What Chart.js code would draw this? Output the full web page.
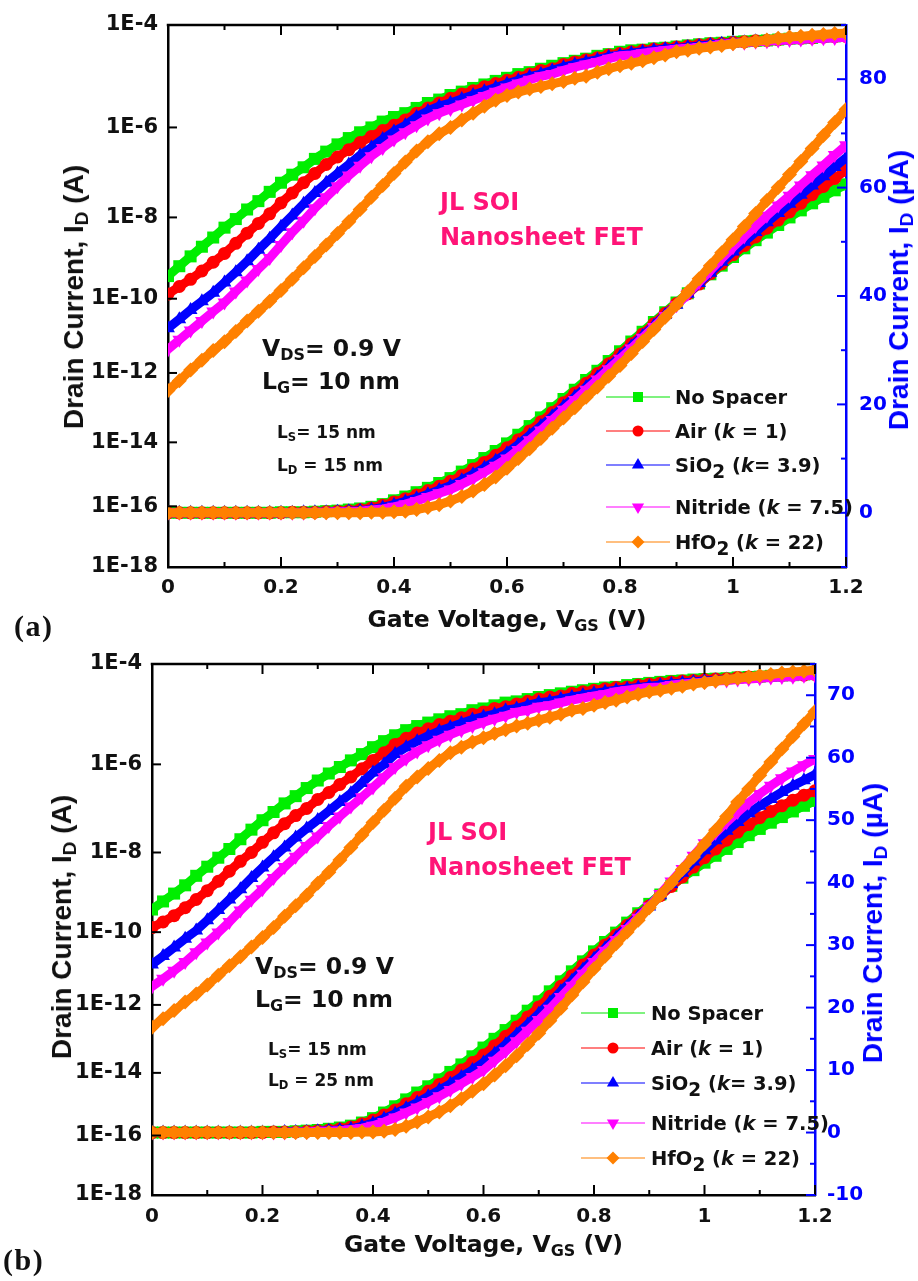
<!DOCTYPE html>
<html lang="en">
<head>
<meta charset="utf-8">
<title>JL SOI Nanosheet FET - transfer characteristics</title>
<script src="https://cdn.jsdelivr.net/npm/chart.js@4.4.1/dist/chart.umd.min.js"></script>
<style>
  html, body { margin: 0; padding: 0; background: #fff; }
  #page { position: relative; width: 918px; height: 1281px; overflow: hidden; }
  .panel { position: absolute; left: 0; }
  .lbl { position: absolute; white-space: nowrap; line-height: 1; font-family: 'DejaVu Sans', sans-serif; font-weight: bold; color: #111; }
  .pink { color: #ff1477; font-size: 24px; }
  .cond { font-size: 23.5px; }
  .small { font-size: 17px; }
  .xtitle { font-size: 23.5px; transform: translateX(-50%); }
  .ytitle { position: absolute; white-space: nowrap; line-height: 1; font-family: 'Liberation Sans', Arial, sans-serif; font-weight: bold; font-size: 28px; color: #111; transform: translate(-50%, -50%) rotate(-90deg); }
  .ytitle.right { color: #0000ff; }
  .sub { font-size: 0.68em; position: relative; top: 0.28em; }
  .tag { position: absolute; line-height: 1; font-family: 'Liberation Serif', 'Times New Roman', serif; font-weight: bold; font-size: 30px; letter-spacing: 1.5px; color: #111; }
  .leg { position: absolute; white-space: nowrap; line-height: 1; font-family: 'DejaVu Sans', sans-serif; font-weight: bold; font-size: 19.5px; color: #111; }
  .leg i { font-style: oblique; }
  .leg .sub2 { font-size: 0.95em; position: relative; top: 0.32em; }
  .legsym { position: absolute; }
</style>
</head>
<body>
<div id="page">
  <div class="panel" style="top:0"><canvas id="chartA" width="918" height="640" style="width:918px;height:640px"></canvas></div>
  <div class="panel" style="top:640px"><canvas id="chartB" width="918" height="641" style="width:918px;height:641px"></canvas></div>

  <!-- panel (a) annotations -->
  <div class="lbl pink" style="left:440px;top:189.7px">JL SOI</div>
  <div class="lbl pink" style="left:440px;top:224.7px">Nanosheet FET</div>
  <div class="lbl cond" style="left:262px;top:337px">V<span class="sub">DS</span>= 0.9 V</div>
  <div class="lbl cond" style="left:262px;top:370px">L<span class="sub">G</span>= 10 nm</div>
  <div class="lbl small" style="left:277px;top:423.6px">L<span class="sub">S</span>= 15 nm</div>
  <div class="lbl small" style="left:277px;top:456.6px">L<span class="sub">D</span> = 15 nm</div>
  <div class="lbl xtitle" style="left:507px;top:608px">Gate Voltage, V<span class="sub">GS</span> (V)</div>
  <div class="ytitle" style="left:74px;top:297px">Drain Current, I<span class="sub">D</span> (A)</div>
  <div class="ytitle right" style="left:899px;top:290px">Drain Current, I<span class="sub">D</span> (µA)</div>
  <div class="tag" style="left:14px;top:611px">(a)</div>

  <!-- panel (b) annotations -->
  <div class="lbl pink" style="left:428px;top:819.7px">JL SOI</div>
  <div class="lbl pink" style="left:428px;top:854.7px">Nanosheet FET</div>
  <div class="lbl cond" style="left:255px;top:955px">V<span class="sub">DS</span>= 0.9 V</div>
  <div class="lbl cond" style="left:255px;top:988px">L<span class="sub">G</span>= 10 nm</div>
  <div class="lbl small" style="left:268px;top:1040.6px">L<span class="sub">S</span>= 15 nm</div>
  <div class="lbl small" style="left:268px;top:1071.6px">L<span class="sub">D</span> = 25 nm</div>
  <div class="lbl xtitle" style="left:483.5px;top:1233px">Gate Voltage, V<span class="sub">GS</span> (V)</div>
  <div class="ytitle" style="left:62px;top:927px">Drain Current, I<span class="sub">D</span> (A)</div>
  <div class="ytitle right" style="left:873px;top:923px">Drain Current, I<span class="sub">D</span> (µA)</div>
  <div class="tag" style="left:3px;top:1245px">(b)</div>
</div>

<script>
// gate voltage sweep (V)
const vgs = [0, 0.02, 0.04, 0.06, 0.08, 0.1, 0.12, 0.14, 0.16, 0.18,
  0.2, 0.22, 0.24, 0.26, 0.28, 0.3, 0.32, 0.34, 0.36, 0.38,
  0.4, 0.42, 0.44, 0.46, 0.48, 0.5, 0.52, 0.54, 0.56, 0.58,
  0.6, 0.62, 0.64, 0.66, 0.68, 0.7, 0.72, 0.74, 0.76, 0.78,
  0.8, 0.82, 0.84, 0.86, 0.88, 0.9, 0.92, 0.94, 0.96, 0.98,
  1, 1.02, 1.04, 1.06, 1.08, 1.1, 1.12, 1.14, 1.16, 1.18, 1.2];

const seriesNames = ['No Spacer', 'Air (k = 1)', 'SiO2 (k= 3.9)', 'Nitride (k = 7.5)', 'HfO2 (k = 22)'];
const legendLabels = ['No Spacer', 'Air (<i>k</i> = 1)', 'SiO<span class="sub2">2</span> (<i>k</i>= 3.9)',
  'Nitride (<i>k</i> = 7.5)', 'HfO<span class="sub2">2</span> (<i>k</i> = 22)'];

// tick labels
const vgsTickLabels = ['0', '0.2', '0.4', '0.6', '0.8', '1', '1.2'];
const logTickValues = [1e-18, 1e-16, 1e-14, 1e-12, 1e-10, 1e-8, 1e-6, 1e-4];
const logTickLabels = ['1E-18', '1E-16', '1E-14', '1E-12', '1E-10', '1E-8', '1E-6', '1E-4'];
const rightTicksA = [0, 20, 40, 60, 80];
const rightTickLabelsA = ['0', '20', '40', '60', '80'];
const rightTicksB = [-10, 0, 10, 20, 30, 40, 50, 60, 70];
const rightTickLabelsB = ['-10', '0', '10', '20', '30', '40', '50', '60', '70'];

// (a) L_D = 15 nm, drain current on log axis (A)
const aLogNoSpacer = [3.6e-10, 6.3e-10, 1.1e-9, 1.9e-9, 3.2e-9, 5.6e-9, 9.1e-9, 1.5e-8, 2.3e-8, 3.7e-8,
  5.9e-8, 8.9e-8, 1.3e-7, 2.0e-7, 2.9e-7, 4.2e-7, 5.8e-7, 7.8e-7, 1.0e-6, 1.3e-6,
  1.6e-6, 1.9e-6, 2.4e-6, 3.0e-6, 3.5e-6, 4.3e-6, 5.0e-6, 5.9e-6, 6.9e-6, 8.1e-6,
  9.3e-6, 1.1e-5, 1.2e-5, 1.4e-5, 1.6e-5, 1.8e-5, 2.0e-5, 2.2e-5, 2.5e-5, 2.7e-5,
  3.0e-5, 3.2e-5, 3.3e-5, 3.5e-5, 3.6e-5, 3.8e-5, 4.0e-5, 4.2e-5, 4.4e-5, 4.5e-5,
  4.7e-5, 4.8e-5, 4.9e-5, 5.0e-5, 5.2e-5, 5.4e-5, 5.5e-5, 5.6e-5, 5.9e-5, 6.0e-5, 6.2e-5];
const aLogAir = [1.3e-10, 2.0e-10, 3.0e-10, 4.8e-10, 7.9e-10, 1.3e-9, 2.3e-9, 4.1e-9, 7.1e-9, 1.2e-8,
  2.1e-8, 3.5e-8, 5.9e-8, 9.5e-8, 1.5e-7, 2.2e-7, 3.2e-7, 4.6e-7, 6.3e-7, 8.5e-7,
  1.1e-6, 1.4e-6, 1.9e-6, 2.4e-6, 3.0e-6, 3.7e-6, 4.5e-6, 5.2e-6, 6.2e-6, 7.2e-6,
  8.3e-6, 9.5e-6, 1.1e-5, 1.3e-5, 1.4e-5, 1.7e-5, 1.9e-5, 2.1e-5, 2.3e-5, 2.6e-5,
  2.8e-5, 3.0e-5, 3.2e-5, 3.4e-5, 3.5e-5, 3.7e-5, 3.9e-5, 4.1e-5, 4.3e-5, 4.4e-5,
  4.6e-5, 4.7e-5, 4.9e-5, 5.0e-5, 5.2e-5, 5.4e-5, 5.5e-5, 5.6e-5, 5.8e-5, 5.9e-5, 6.0e-5];
const aLogSiO2 = [1.6e-11, 2.8e-11, 5.0e-11, 8.5e-11, 1.4e-10, 2.5e-10, 4.5e-10, 8.3e-10, 1.6e-9, 3.0e-9,
  5.9e-9, 1.1e-8, 2.0e-8, 3.5e-8, 5.9e-8, 9.5e-8, 1.5e-7, 2.4e-7, 3.6e-7, 5.5e-7,
  8.1e-7, 1.1e-6, 1.6e-6, 2.1e-6, 2.6e-6, 3.0e-6, 3.6e-6, 4.3e-6, 5.1e-6, 6.0e-6,
  7.1e-6, 8.3e-6, 9.8e-6, 1.1e-5, 1.3e-5, 1.5e-5, 1.7e-5, 1.9e-5, 2.1e-5, 2.4e-5,
  2.6e-5, 2.8e-5, 3.0e-5, 3.2e-5, 3.4e-5, 3.5e-5, 3.7e-5, 3.9e-5, 4.1e-5, 4.3e-5,
  4.5e-5, 4.6e-5, 4.8e-5, 4.9e-5, 5.1e-5, 5.2e-5, 5.4e-5, 5.5e-5, 5.6e-5, 5.8e-5, 5.9e-5];
const aLogNitride = [4.3e-12, 7.8e-12, 1.4e-11, 2.5e-11, 4.5e-11, 7.9e-11, 1.5e-10, 2.8e-10, 5.4e-10, 1.0e-9,
  2.1e-9, 4.3e-9, 8.3e-9, 1.6e-8, 2.8e-8, 4.9e-8, 8.5e-8, 1.4e-7, 2.3e-7, 3.5e-7,
  5.4e-7, 7.8e-7, 1.1e-6, 1.5e-6, 1.9e-6, 2.3e-6, 2.8e-6, 3.4e-6, 4.1e-6, 5.0e-6,
  6.0e-6, 7.2e-6, 8.5e-6, 1.0e-5, 1.1e-5, 1.3e-5, 1.5e-5, 1.7e-5, 1.9e-5, 2.2e-5,
  2.5e-5, 2.6e-5, 2.8e-5, 3.0e-5, 3.2e-5, 3.4e-5, 3.5e-5, 3.7e-5, 3.9e-5, 4.2e-5,
  4.4e-5, 4.5e-5, 4.7e-5, 4.8e-5, 5.0e-5, 5.1e-5, 5.2e-5, 5.4e-5, 5.5e-5, 5.6e-5, 5.8e-5];
const aLogHfO2 = [3.1e-13, 6.0e-13, 1.2e-12, 2.2e-12, 4.0e-12, 6.9e-12, 1.3e-11, 2.5e-11, 4.6e-11, 8.5e-11,
  1.6e-10, 3.0e-10, 5.8e-10, 1.1e-9, 2.1e-9, 4.0e-9, 7.8e-9, 1.5e-8, 2.8e-8, 5.1e-8,
  9.5e-8, 1.7e-7, 3.0e-7, 4.8e-7, 7.2e-7, 1.0e-6, 1.4e-6, 1.9e-6, 2.6e-6, 3.4e-6,
  4.2e-6, 4.9e-6, 5.6e-6, 6.3e-6, 7.1e-6, 7.9e-6, 9.1e-6, 1.0e-5, 1.2e-5, 1.4e-5,
  1.6e-5, 1.8e-5, 2.0e-5, 2.3e-5, 2.6e-5, 3.0e-5, 3.2e-5, 3.5e-5, 3.7e-5, 4.0e-5,
  4.3e-5, 4.6e-5, 4.8e-5, 5.1e-5, 5.5e-5, 5.8e-5, 6.0e-5, 6.3e-5, 6.5e-5, 6.8e-5, 6.9e-5];

// (a) drain current on linear axis (µA)
const aLinNoSpacer = [0, 0, 0, 0, 0, 0, 0, 0, 0, 0,
  0.1, 0.1, 0.1, 0.2, 0.3, 0.4, 0.6, 0.8, 1.1, 1.6,
  2.3, 3.0, 3.8, 4.6, 5.5, 6.4, 7.6, 8.8, 10.1, 11.4,
  12.8, 14.4, 16.0, 17.6, 19.3, 21.0, 22.7, 24.5, 26.2, 28.0,
  29.8, 31.6, 33.4, 35.2, 37.0, 38.8, 40.5, 42.3, 44.0, 45.6,
  47.2, 48.8, 50.3, 51.7, 53.1, 54.5, 55.8, 57.1, 58.3, 59.5, 60.6];
const aLinAir = [0, 0, 0, 0, 0, 0, 0, 0, 0, 0,
  0.0, 0.1, 0.1, 0.1, 0.2, 0.3, 0.4, 0.6, 0.9, 1.4,
  2.0, 2.6, 3.3, 4.1, 4.9, 5.8, 6.9, 8.1, 9.3, 10.6,
  12.0, 13.5, 15.1, 16.8, 18.5, 20.3, 22.1, 23.9, 25.7, 27.5,
  29.3, 31.2, 33.0, 34.9, 36.8, 38.6, 40.4, 42.2, 44.1, 45.9,
  47.6, 49.3, 50.9, 52.5, 54.0, 55.5, 57.1, 58.7, 60.2, 61.7, 63.2];
const aLinSiO2 = [0, 0, 0, 0, 0, 0, 0, 0, 0, 0,
  0.0, 0.0, 0.1, 0.1, 0.1, 0.2, 0.3, 0.4, 0.6, 1.0,
  1.5, 2.1, 2.7, 3.4, 4.2, 5.0, 6.0, 7.1, 8.3, 9.6,
  11.0, 12.6, 14.3, 16.0, 17.8, 19.6, 21.4, 23.2, 25.0, 26.9,
  28.8, 30.7, 32.6, 34.5, 36.5, 38.4, 40.4, 42.4, 44.3, 46.3,
  48.2, 50.0, 51.8, 53.6, 55.3, 57.0, 58.7, 60.4, 62.1, 63.8, 65.5];
const aLinNitride = [0, 0, 0, 0, 0, 0, 0, 0, 0, 0,
  0.0, 0.0, 0.0, 0.1, 0.1, 0.2, 0.2, 0.3, 0.5, 0.7,
  1.1, 1.6, 2.2, 2.9, 3.6, 4.3, 5.3, 6.3, 7.5, 8.7,
  10.0, 11.6, 13.4, 15.2, 17.1, 19.0, 20.8, 22.7, 24.6, 26.5,
  28.4, 30.3, 32.3, 34.3, 36.3, 38.3, 40.4, 42.6, 44.7, 46.9,
  49.0, 51.0, 52.9, 54.8, 56.7, 58.5, 60.4, 62.3, 64.1, 66.0, 67.8];
const aLinHfO2 = [0, 0, 0, 0, 0, 0, 0, 0, 0, 0,
  0.0, 0.0, 0.0, 0.0, 0.0, 0.0, 0.0, 0.0, 0.1, 0.1,
  0.2, 0.3, 0.6, 1.0, 1.5, 2.2, 3.0, 4.0, 5.2, 6.6,
  8.2, 10.0, 11.8, 13.7, 15.6, 17.5, 19.4, 21.3, 23.2, 25.2,
  27.2, 29.4, 31.6, 33.8, 36.1, 38.4, 40.8, 43.2, 45.6, 48.0,
  50.4, 52.8, 55.2, 57.6, 60.0, 62.4, 64.8, 67.2, 69.6, 72.0, 74.4];

// (b) L_D = 25 nm, drain current on log axis (A)
const bLogNoSpacer = [3.7e-10, 5.9e-10, 9.3e-10, 1.5e-9, 2.6e-9, 4.4e-9, 7.4e-9, 1.2e-8, 2.0e-8, 3.3e-8,
  5.4e-8, 8.3e-8, 1.3e-7, 1.9e-7, 2.9e-7, 4.3e-7, 6.2e-7, 8.7e-7, 1.2e-6, 1.6e-6,
  2.2e-6, 2.9e-6, 3.8e-6, 4.8e-6, 5.8e-6, 6.8e-6, 7.9e-6, 9.1e-6, 1.0e-5, 1.2e-5,
  1.3e-5, 1.5e-5, 1.7e-5, 1.8e-5, 2.0e-5, 2.2e-5, 2.4e-5, 2.6e-5, 2.8e-5, 3.0e-5,
  3.2e-5, 3.4e-5, 3.5e-5, 3.8e-5, 4.0e-5, 4.2e-5, 4.4e-5, 4.6e-5, 4.7e-5, 4.9e-5,
  5.0e-5, 5.1e-5, 5.2e-5, 5.4e-5, 5.5e-5, 5.6e-5, 5.8e-5, 5.9e-5, 6.0e-5, 6.2e-5, 6.3e-5];
const bLogAir = [1.3e-10, 1.8e-10, 2.6e-10, 4.1e-10, 6.6e-10, 1.1e-9, 1.9e-9, 3.4e-9, 6.0e-9, 1.0e-8,
  1.7e-8, 2.8e-8, 4.5e-8, 6.9e-8, 1.0e-7, 1.6e-7, 2.3e-7, 3.5e-7, 5.2e-7, 7.9e-7,
  1.2e-6, 1.7e-6, 2.5e-6, 3.3e-6, 4.2e-6, 5.1e-6, 6.2e-6, 7.2e-6, 8.5e-6, 1.0e-5,
  1.1e-5, 1.3e-5, 1.4e-5, 1.6e-5, 1.8e-5, 2.0e-5, 2.2e-5, 2.3e-5, 2.6e-5, 2.8e-5,
  3.0e-5, 3.2e-5, 3.4e-5, 3.5e-5, 3.8e-5, 4.0e-5, 4.2e-5, 4.4e-5, 4.6e-5, 4.7e-5,
  4.9e-5, 5.0e-5, 5.1e-5, 5.4e-5, 5.5e-5, 5.6e-5, 5.8e-5, 5.9e-5, 6.0e-5, 6.0e-5, 6.2e-5];
const bLogSiO2 = [1.3e-11, 2.2e-11, 3.8e-11, 6.6e-11, 1.1e-10, 2.0e-10, 3.6e-10, 6.6e-10, 1.2e-9, 2.3e-9,
  4.2e-9, 7.6e-9, 1.3e-8, 2.2e-8, 3.5e-8, 5.5e-8, 8.7e-8, 1.4e-7, 2.2e-7, 3.8e-7,
  6.5e-7, 1.0e-6, 1.6e-6, 2.2e-6, 2.9e-6, 3.7e-6, 4.6e-6, 5.5e-6, 6.6e-6, 7.8e-6,
  8.9e-6, 1.0e-5, 1.2e-5, 1.3e-5, 1.5e-5, 1.7e-5, 1.8e-5, 2.0e-5, 2.2e-5, 2.4e-5,
  2.6e-5, 2.8e-5, 3.0e-5, 3.2e-5, 3.4e-5, 3.6e-5, 3.8e-5, 4.0e-5, 4.2e-5, 4.4e-5,
  4.6e-5, 4.7e-5, 4.9e-5, 5.0e-5, 5.2e-5, 5.4e-5, 5.5e-5, 5.6e-5, 5.8e-5, 5.9e-5, 6.0e-5];
const bLogNitride = [3.2e-12, 5.2e-12, 8.7e-12, 1.5e-11, 2.8e-11, 5.2e-11, 9.8e-11, 1.8e-10, 3.5e-10, 6.5e-10,
  1.2e-9, 2.3e-9, 4.3e-9, 7.8e-9, 1.4e-8, 2.3e-8, 4.0e-8, 6.6e-8, 1.1e-7, 1.8e-7,
  3.0e-7, 5.1e-7, 8.7e-7, 1.3e-6, 1.8e-6, 2.4e-6, 3.1e-6, 3.9e-6, 4.8e-6, 5.8e-6,
  6.9e-6, 8.1e-6, 9.3e-6, 1.1e-5, 1.2e-5, 1.4e-5, 1.5e-5, 1.7e-5, 1.9e-5, 2.1e-5,
  2.3e-5, 2.5e-5, 2.8e-5, 3.0e-5, 3.2e-5, 3.4e-5, 3.5e-5, 3.8e-5, 4.0e-5, 4.2e-5,
  4.4e-5, 4.6e-5, 4.7e-5, 4.9e-5, 5.0e-5, 5.2e-5, 5.4e-5, 5.5e-5, 5.6e-5, 5.8e-5, 5.9e-5];
const bLogHfO2 = [2.2e-13, 3.9e-13, 6.8e-13, 1.2e-12, 2.0e-12, 3.5e-12, 6.5e-12, 1.2e-11, 2.1e-11, 3.9e-11,
  7.1e-11, 1.3e-10, 2.5e-10, 4.6e-10, 8.5e-10, 1.7e-9, 3.2e-9, 6.5e-9, 1.3e-8, 2.5e-8,
  4.8e-8, 9.1e-8, 1.7e-7, 3.2e-7, 5.2e-7, 8.1e-7, 1.2e-6, 1.7e-6, 2.2e-6, 2.8e-6,
  3.4e-6, 4.1e-6, 4.9e-6, 5.8e-6, 6.6e-6, 7.6e-6, 8.7e-6, 1.0e-5, 1.2e-5, 1.3e-5,
  1.5e-5, 1.7e-5, 1.9e-5, 2.2e-5, 2.5e-5, 2.8e-5, 3.0e-5, 3.3e-5, 3.6e-5, 4.0e-5,
  4.3e-5, 4.6e-5, 4.9e-5, 5.2e-5, 5.5e-5, 5.9e-5, 6.2e-5, 6.6e-5, 6.9e-5, 7.2e-5, 7.6e-5];

// (b) drain current on linear axis (µA)
const bLinNoSpacer = [0, 0, 0, 0, 0, 0, 0, 0, 0, 0,
  0.1, 0.1, 0.1, 0.2, 0.3, 0.4, 0.6, 0.8, 1.1, 1.6,
  2.3, 3.2, 4.2, 5.3, 6.4, 7.4, 8.5, 9.7, 10.9, 12.2,
  13.6, 15.0, 16.4, 17.9, 19.5, 21.0, 22.6, 24.2, 25.8, 27.4,
  29.0, 30.5, 32.0, 33.6, 35.1, 36.6, 38.1, 39.5, 40.8, 42.0,
  43.2, 44.3, 45.4, 46.5, 47.6, 48.6, 49.6, 50.5, 51.4, 52.3, 53.1];
const bLinAir = [0, 0, 0, 0, 0, 0, 0, 0, 0, 0,
  0.0, 0.1, 0.1, 0.1, 0.2, 0.3, 0.4, 0.6, 0.9, 1.4,
  2.0, 2.8, 3.6, 4.6, 5.6, 6.6, 7.7, 8.8, 10.0, 11.2,
  12.4, 13.9, 15.4, 16.9, 18.5, 20.1, 21.8, 23.4, 25.1, 26.8,
  28.4, 30.0, 31.6, 33.2, 34.8, 36.3, 37.9, 39.4, 40.9, 42.5,
  44.0, 45.4, 46.8, 48.1, 49.3, 50.4, 51.4, 52.3, 53.2, 54.0, 54.7];
const bLinSiO2 = [0, 0, 0, 0, 0, 0, 0, 0, 0, 0,
  0.0, 0.0, 0.1, 0.1, 0.1, 0.2, 0.3, 0.4, 0.6, 1.0,
  1.5, 2.2, 3.0, 3.9, 4.8, 5.8, 6.8, 7.8, 8.9, 10.0,
  11.2, 12.6, 14.1, 15.7, 17.3, 19.0, 20.8, 22.6, 24.3, 26.1,
  27.8, 29.5, 31.2, 32.9, 34.6, 36.2, 38.0, 39.8, 41.6, 43.4,
  45.2, 46.8, 48.3, 49.7, 51.1, 52.3, 53.4, 54.5, 55.5, 56.4, 57.3];
const bLinNitride = [0, 0, 0, 0, 0, 0, 0, 0, 0, 0,
  0.0, 0.0, 0.0, 0.1, 0.1, 0.2, 0.2, 0.3, 0.5, 0.7,
  1.1, 1.7, 2.4, 3.2, 4.0, 4.9, 5.8, 6.8, 7.8, 8.9,
  10.0, 11.5, 13.0, 14.6, 16.3, 18.0, 19.8, 21.7, 23.5, 25.4,
  27.3, 29.1, 30.8, 32.6, 34.4, 36.2, 38.2, 40.2, 42.2, 44.3,
  46.3, 48.0, 49.7, 51.3, 52.8, 54.2, 55.5, 56.7, 57.8, 58.8, 59.8];
const bLinHfO2 = [0, 0, 0, 0, 0, 0, 0, 0, 0, 0,
  0.0, 0.0, 0.0, 0.0, 0.0, 0.0, 0.0, 0.0, 0.0, 0.1,
  0.1, 0.2, 0.5, 1.0, 1.7, 2.5, 3.3, 4.3, 5.4, 6.6,
  7.8, 9.2, 10.7, 12.3, 14.1, 15.9, 17.9, 19.9, 22.0, 24.1,
  26.2, 28.2, 30.2, 32.1, 34.0, 36.0, 38.0, 40.0, 42.1, 44.1,
  46.2, 48.4, 50.6, 52.9, 55.0, 57.2, 59.3, 61.4, 63.4, 65.4, 67.4];

// look of each spacer series
const seriesColors = ['#00ee00', '#ff0000', '#0000ff', '#ff00ff', '#ff8000'];
const legendLineColors = ['rgba(0,230,0,0.5)', 'rgba(255,0,0,0.5)', 'rgba(0,0,255,0.5)', 'rgba(255,0,255,0.5)', 'rgba(255,128,0,0.5)'];
const seriesMarkers = ['rect', 'circle', 'triangle', 'triangle', 'rectRot'];
const seriesMarkerRotation = [0, 0, 0, 180, 0];
const seriesMarkerRadius = [8.5, 6.5, 8, 8, 7.5];
const axisBlue = '#0000ff';
const tickFont = { family: "'DejaVu Sans', sans-serif", size: 20, weight: 'bold' };
const logFont = { family: "'DejaVu Sans', sans-serif", size: 21, weight: 'bold' };

// The current axis of this figure is drawn with uneven decade spacing:
// fraction of the axis height at 1E-18, 1E-16, ... 1E-4.
const decadeKnots = [0, 0.112, 0.230, 0.358, 0.495, 0.645, 0.811, 1];

class WarpedLogScale extends Chart.LogarithmicScale {
  toFraction(value) {
    const lo = Math.log10(this.min), hi = Math.log10(this.max);
    const n = decadeKnots.length - 1;
    const t = (Math.log10(value) - lo) / (hi - lo) * n;
    const i = Math.min(n - 1, Math.max(0, Math.floor(t)));
    return decadeKnots[i] + (t - i) * (decadeKnots[i + 1] - decadeKnots[i]);
  }
  getPixelForValue(value) {
    if (value === undefined || value === 0) value = this.min;
    if (value === null || isNaN(value) || value < 0) return NaN;
    return this.getPixelForDecimal(this.toFraction(value));
  }
  getValueForPixel(pixel) {
    const d = this.getDecimalForPixel(pixel);
    const n = decadeKnots.length - 1;
    let i = 0;
    while (i < n - 1 && d > decadeKnots[i + 1]) i++;
    const t = i + (d - decadeKnots[i]) / (decadeKnots[i + 1] - decadeKnots[i]);
    const lo = Math.log10(this.min), hi = Math.log10(this.max);
    return Math.pow(10, lo + t / n * (hi - lo));
  }
}
WarpedLogScale.id = 'warpedLog';
Chart.register(WarpedLogScale);

// inward tick marks on all four sides plus the top frame line
const inwardTicks = {
  id: 'inwardTicks',
  afterDraw(chart) {
    const { ctx, chartArea: a, scales } = chart;
    const seg = (x1, y1, x2, y2) => { ctx.beginPath(); ctx.moveTo(x1, y1); ctx.lineTo(x2, y2); ctx.stroke(); };
    ctx.save();
    ctx.strokeStyle = '#000';
    ctx.lineWidth = 2.5;
    seg(a.left - 1.25, a.top, a.right, a.top);
    ctx.lineWidth = 2;
    for (const t of scales.x.ticks) {
      const px = scales.x.getPixelForValue(t.value);
      const len = Math.round(t.value * 10) % 2 === 0 ? 10 : 5;
      seg(px, a.bottom, px, a.bottom - len);
      seg(px, a.top, px, a.top + len);
    }
    for (const t of scales.y.ticks) {
      const py = scales.y.getPixelForValue(t.value);
      seg(a.left, py, a.left + 9, py);
    }
    ctx.strokeStyle = axisBlue;
    for (const t of scales.y2.ticks) {
      const py = scales.y2.getPixelForValue(t.value);
      seg(a.right, py, a.right - (t.label !== '' ? 9 : 5), py);
    }
    ctx.restore();
  }
};

function series(values, i, axisId) {
  return {
    label: seriesNames[i],
    yAxisID: axisId,
    data: vgs.map((v, k) => ({ x: v, y: values[k] })),
    borderColor: seriesColors[i],
    backgroundColor: seriesColors[i],
    borderWidth: 9,
    borderJoinStyle: 'round',
    tension: 0,
    pointStyle: seriesMarkers[i],
    pointRotation: seriesMarkerRotation[i],
    pointRadius: seriesMarkerRadius[i],
    pointBackgroundColor: seriesColors[i],
    pointBorderColor: seriesColors[i],
    pointBorderWidth: 0,
    order: 4 - i,
    clip: 0
  };
}

function drawPanel(canvasId, logSets, linSets, frame, right) {
  const datasets = [
    ...logSets.map((vals, i) => series(vals, i, 'y')),
    ...linSets.map((vals, i) => series(vals, i, 'y2'))
  ];
  return new Chart(document.getElementById(canvasId), {
    type: 'line',
    data: { datasets },
    options: {
      responsive: false,
      animation: false,
      devicePixelRatio: 1,
      events: [],
      layout: { padding: { top: frame.top, left: 0, right: 0, bottom: 0 }, autoPadding: false },
      plugins: { legend: { display: false }, tooltip: { enabled: false } },
      scales: {
        x: {
          type: 'linear', position: 'bottom', min: 0, max: 1.2, z: 1,
          grid: { display: false, drawTicks: false },
          border: { display: true, color: '#000', width: 2.5 },
          ticks: {
            stepSize: 0.1, autoSkip: false, maxRotation: 0, padding: frame.xPad, color: '#111', font: tickFont,
            callback: v => { const n = Math.round(v * 10); return n % 2 === 0 ? vgsTickLabels[n / 2] : ''; }
          },
          afterFit: s => { s.height = frame.bottom; }
        },
        y: {
          type: 'warpedLog', position: 'left', min: 1e-18, max: 1e-4, z: 1,
          grid: { display: false, drawTicks: false },
          border: { display: true, color: '#000', width: 2.5 },
          afterBuildTicks: s => { s.ticks = logTickValues.map(value => ({ value })); },
          ticks: {
            autoSkip: false, padding: 10, color: '#111', font: logFont,
            callback: (v, idx) => logTickLabels[idx]
          },
          afterFit: s => { s.width = frame.left; }
        },
        y2: {
          type: 'linear', position: 'right', min: right.min, max: right.max, z: 1,
          grid: { display: false, drawTicks: false },
          border: { display: true, color: axisBlue, width: 2.5 },
          ticks: {
            stepSize: right.step, autoSkip: false, padding: frame.rPad, color: axisBlue, font: tickFont,
            callback: v => { const j = right.values.indexOf(Math.round(v)); return j >= 0 ? right.labels[j] : ''; }
          },
          afterFit: s => { s.width = frame.right; }
        }
      }
    },
    plugins: [inwardTicks]
  });
}

function markerSvg(i) {
  const c = 32, m = 9, col = seriesColors[i];
  let shape;
  switch (i) {
    case 0: shape = `<rect x="${c - 5}" y="${m - 5}" width="10" height="10" fill="${col}"/>`; break;
    case 1: shape = `<circle cx="${c}" cy="${m}" r="5.5" fill="${col}"/>`; break;
    case 2: shape = `<polygon points="${c},${m - 7} ${c + 6.1},${m + 3.5} ${c - 6.1},${m + 3.5}" fill="${col}"/>`; break;
    case 3: shape = `<polygon points="${c},${m + 7} ${c + 6.1},${m - 3.5} ${c - 6.1},${m - 3.5}" fill="${col}"/>`; break;
    default: shape = `<polygon points="${c},${m - 6.5} ${c + 6.5},${m} ${c},${m + 6.5} ${c - 6.5},${m}" fill="${col}"/>`;
  }
  return `<svg width="64" height="18" viewBox="0 0 64 18"><line x1="0" y1="${m}" x2="64" y2="${m}" stroke="${legendLineColors[i]}" stroke-width="1.8"/>${shape}</svg>`;
}

function drawLegend(symbolX, textX, rowY) {
  const page = document.getElementById('page');
  legendLabels.forEach((html, i) => {
    const sym = document.createElement('div');
    sym.className = 'legsym';
    sym.style.left = (symbolX - 32) + 'px';
    sym.style.top = (rowY[i] - 9) + 'px';
    sym.innerHTML = markerSvg(i);
    page.appendChild(sym);
    const txt = document.createElement('div');
    txt.className = 'leg';
    txt.style.left = textX + 'px';
    txt.style.top = (rowY[i] - 9.4) + 'px';
    txt.innerHTML = html;
    page.appendChild(txt);
  });
}

drawPanel('chartA',
  [aLogNoSpacer, aLogAir, aLogSiO2, aLogNitride, aLogHfO2],
  [aLinNoSpacer, aLinAir, aLinSiO2, aLinNitride, aLinHfO2],
  { top: 22, left: 168, right: 72, bottom: 73, xPad: 9, rPad: 13 },
  { min: -10, max: 90, step: 10, values: rightTicksA, labels: rightTickLabelsA });

drawPanel('chartB',
  [bLogNoSpacer, bLogAir, bLogSiO2, bLogNitride, bLogHfO2],
  [bLinNoSpacer, bLinAir, bLinSiO2, bLinNitride, bLinHfO2],
  { top: 22, left: 152, right: 103, bottom: 86, xPad: 10, rPad: 12 },
  { min: -10, max: 75, step: 5, values: rightTicksB, labels: rightTickLabelsB });

drawLegend(638, 675, [397, 431, 465, 507, 542]);
drawLegend(613, 651, [1013, 1048, 1083, 1123, 1158]);
</script>
</body>
</html>
